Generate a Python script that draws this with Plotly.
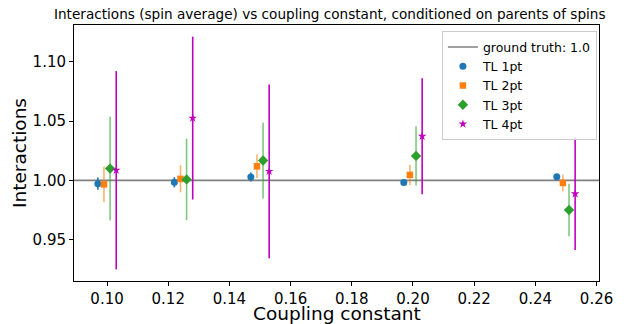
import plotly.graph_objects as go

# Coupling constants probed; each series is drawn with a small horizontal offset
coupling = [0.10, 0.125, 0.15, 0.20, 0.25]
offsets = {"TL 1pt": -0.003, "TL 2pt": -0.001, "TL 3pt": 0.001, "TL 4pt": 0.003}

# Interaction estimates (spin average) and their uncertainties
tl1_mean = [0.9972, 0.9983, 1.0029, 0.9981, 1.0031]
tl1_err = [0.0052, 0.0043, 0.0038, 0.0020, 0.0020]
tl2_mean = [0.9966, 1.0012, 1.0118, 1.0046, 0.9978]
tl2_err = [0.0150, 0.0114, 0.0099, 0.0085, 0.0070]
tl3_mean = [1.0099, 1.0008, 1.0167, 1.0206, 0.9750]
tl3_err = [0.0437, 0.0344, 0.0320, 0.0250, 0.0222]
tl4_mean = [1.0085, 1.0525, 1.0076, 1.0372, 0.9887]
tl4_err = [0.0836, 0.0687, 0.0733, 0.0490, 0.0474]

ground_truth = 1.0

x_ticks = [0.10, 0.12, 0.14, 0.16, 0.18, 0.20, 0.22, 0.24, 0.26]
y_ticks = [0.95, 1.00, 1.05, 1.10]

series = [
    ("TL 1pt", tl1_mean, tl1_err, "#1f77b4", "rgba(31,119,180,1)", "circle", 7),
    ("TL 2pt", tl2_mean, tl2_err, "#ff7f0e", "rgba(255,127,14,0.6)", "square", 6.5),
    ("TL 3pt", tl3_mean, tl3_err, "#2ca02c", "rgba(44,160,44,0.6)", "diamond", 8),
    ("TL 4pt", tl4_mean, tl4_err, "#bf00bf", "rgba(191,0,191,1)", "star", 6.5),
]

# axis limits with 5% padding around the data, like matplotlib autoscaling
all_x = [c + offsets[name] for name, *_ in series for c in coupling]
lo_y = [m - e for _, ms, es, *_ in series for m, e in zip(ms, es)]
hi_y = [m + e for _, ms, es, *_ in series for m, e in zip(ms, es)]
xpad = 0.05 * (max(all_x) - min(all_x))
ypad = 0.05 * (max(hi_y) - min(lo_y))
x_range = [min(all_x) - xpad, max(all_x) + xpad]
y_range = [min(lo_y) - ypad, max(hi_y) + ypad]

fig = go.Figure()

fig.add_trace(go.Scatter(
    x=x_range, y=[ground_truth, ground_truth], mode="lines",
    line=dict(color="#808080", width=1.6),
    name=f"ground truth: {ground_truth}",
))

for name, means, errs, color, ecolor, symbol, size in series:
    fig.add_trace(go.Scatter(
        x=[c + offsets[name] for c in coupling], y=means, mode="markers",
        name=name,
        marker=dict(color=color, symbol=symbol, size=size, line=dict(width=0)),
        error_y=dict(type="data", array=errs, visible=True, color=ecolor,
                     thickness=1.6, width=0),
    ))

font_family = "DejaVu Sans"

fig.update_layout(
    width=634, height=324,
    margin=dict(l=74, r=35, t=25, b=43),
    plot_bgcolor="white", paper_bgcolor="white",
    font=dict(family=font_family, color="black"),
    showlegend=True,
    legend=dict(
        x=0.996, y=0.975, xanchor="right", yanchor="top",
        bgcolor="rgba(255,255,255,0.8)", bordercolor="#cccccc", borderwidth=1,
        font=dict(size=12.5, family=font_family), tracegroupgap=0,
    ),
    annotations=[
        dict(text="Interactions (spin average) vs coupling constant, conditioned on parents of spins",
             xref="paper", yref="paper", x=0.486, y=1.0, yshift=11,
             xanchor="center", yanchor="middle", showarrow=False,
             font=dict(size=13.6, family=font_family)),
        dict(text="Coupling constant", xref="paper", yref="paper",
             x=0.5, y=0, yshift=-32, xanchor="center", yanchor="middle",
             showarrow=False, font=dict(size=18.5, family=font_family)),
        dict(text="Interactions", xref="paper", yref="paper",
             x=0, xshift=-55, y=0.5, xanchor="center", yanchor="middle",
             textangle=-90, showarrow=False,
             font=dict(size=18.5, family=font_family)),
    ],
)

fig.update_xaxes(
    range=x_range, tickvals=x_ticks, tickformat=".2f",
    ticks="outside", ticklen=4, tickwidth=1, tickcolor="black",
    showline=True, linecolor="black", linewidth=1, mirror=True,
    showgrid=False, zeroline=False,
    tickfont=dict(size=15, family=font_family),
)
fig.update_yaxes(
    range=y_range, tickvals=y_ticks, tickformat=".2f",
    ticks="outside", ticklen=4, tickwidth=1, tickcolor="black",
    showline=True, linecolor="black", linewidth=1, mirror=True,
    showgrid=False, zeroline=False,
    tickfont=dict(size=15, family=font_family),
)

fig.write_html("out.html")
